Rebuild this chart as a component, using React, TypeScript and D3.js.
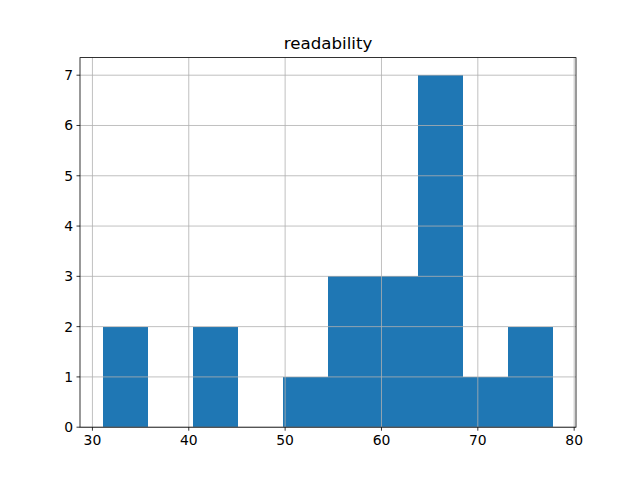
import React from "react";
import * as d3 from "d3";

const title = "readability";
const counts = [2, 0, 2, 0, 1, 3, 3, 7, 1, 2];
const dataMin = 31.05;
const dataMax = 77.85;
const xTicks = [30, 40, 50, 60, 70, 80];
const yTicks = [0, 1, 2, 3, 4, 5, 6, 7];

export default function App() {
  const W = 640, H = 480;
  const left = 80, right = 576, top = 57.6, bottom = 427.2;
  const span = dataMax - dataMin;
  const x = d3.scaleLinear().domain([dataMin - span * 0.05, dataMax + span * 0.05]).range([left, right]);
  const yMax = d3.max(counts)! * 1.05;
  const y = d3.scaleLinear().domain([0, yMax]).range([bottom, top]);
  const binW = span / counts.length;
  const font = "DejaVu Sans, sans-serif";
  return (
    <svg width={W} height={H} style={{ position: "absolute", left: 0, top: 0 }} xmlns="http://www.w3.org/2000/svg">
      <rect x={0} y={0} width={W} height={H} fill="#fff" />
      {counts.map((c, i) => {
        const x0 = x(dataMin + i * binW);
        const x1 = x(dataMin + (i + 1) * binW);
        return c > 0 ? (
          <rect key={i} x={x0} y={y(c)} width={x1 - x0} height={y(0) - y(c)} fill="#1f77b4" shapeRendering="crispEdges" />
        ) : null;
      })}
      {xTicks.map((t) => (
        <line key={"gx" + t} x1={x(t)} x2={x(t)} y1={top} y2={bottom} stroke="#b0b0b0" strokeWidth={0.8} />
      ))}
      {yTicks.map((t) => (
        <line key={"gy" + t} x1={left} x2={right} y1={y(t)} y2={y(t)} stroke="#b0b0b0" strokeWidth={0.8} />
      ))}
      <rect x={left} y={top} width={right - left} height={bottom - top} fill="none" stroke="#000" strokeWidth={0.8} />
      {xTicks.map((t) => (
        <g key={"tx" + t}>
          <line x1={x(t)} x2={x(t)} y1={bottom} y2={bottom + 3.5} stroke="#000" strokeWidth={0.8} />
          <text x={x(t)} y={bottom + 7} dy="0.76em" textAnchor="middle" fontFamily={font} fontSize={13.9} fill="#000">
            {t}
          </text>
        </g>
      ))}
      {yTicks.map((t) => (
        <g key={"ty" + t}>
          <line x1={left - 3.5} x2={left} y1={y(t)} y2={y(t)} stroke="#000" strokeWidth={0.8} />
          <text x={left - 7} y={y(t)} dy="0.36em" textAnchor="end" fontFamily={font} fontSize={13.9} fill="#000">
            {t}
          </text>
        </g>
      ))}
      <text x={(left + right) / 2} y={top - 8.3} textAnchor="middle" fontFamily={font} fontSize={16.67} fill="#000">
        {title}
      </text>
    </svg>
  );
}
